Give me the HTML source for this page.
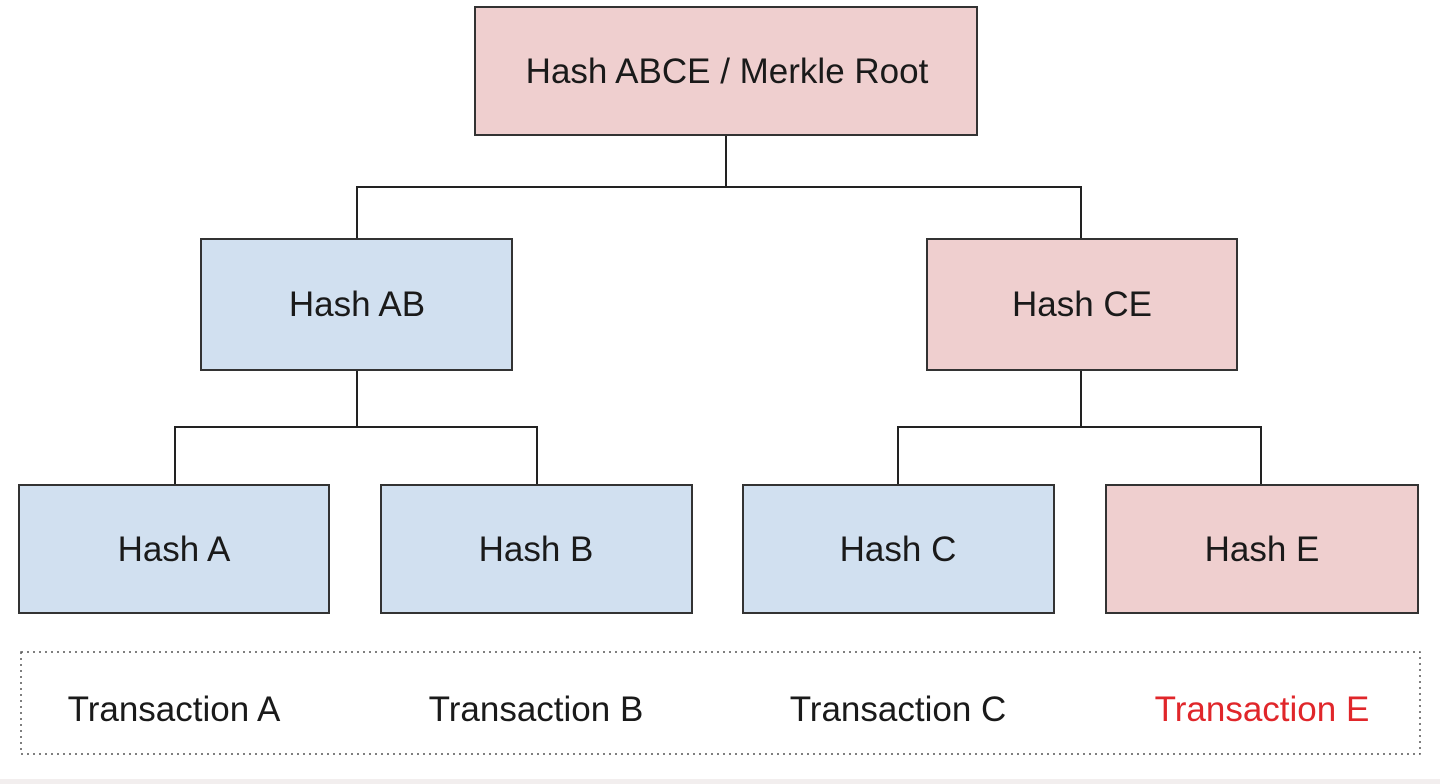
<!DOCTYPE html>
<html><head><meta charset="utf-8"><style>
html,body{margin:0;padding:0;background:#fff;}
svg{display:block;}
text{font-family:"Liberation Sans",Arial,sans-serif;font-size:35px;fill:#1a1a1a;}
</style></head><body>
<svg width="1440" height="784" viewBox="0 0 1440 784" xmlns="http://www.w3.org/2000/svg">
<rect x="0" y="0" width="1440" height="784" fill="#fff"/>
<rect x="0" y="779" width="1440" height="5" fill="#f2eeee"/>
<g stroke="#222" stroke-width="2" fill="none">
<path d="M726 135V187M357 239V187H1081V239"/>
<path d="M357 370V427M175 485V427H537V485"/>
<path d="M1081 370V427M898 485V427H1261V485"/>
</g>
<g stroke="#333" stroke-width="2">
<rect x="475" y="7" width="502" height="128" fill="#efcfcf"/>
<rect x="201" y="239" width="311" height="131" fill="#d1e0f0"/>
<rect x="927" y="239" width="310" height="131" fill="#efcfcf"/>
<rect x="19" y="485" width="310" height="128" fill="#d1e0f0"/>
<rect x="381" y="485" width="311" height="128" fill="#d1e0f0"/>
<rect x="743" y="485" width="311" height="128" fill="#d1e0f0"/>
<rect x="1106" y="485" width="312" height="128" fill="#efcfcf"/>
</g>
<rect x="21" y="652" width="1399" height="102" fill="none" stroke="#555" stroke-width="1.5" stroke-dasharray="2 4"/>
<g text-anchor="middle">
<text x="727" y="83">Hash ABCE / Merkle Root</text>
<text x="357" y="316">Hash AB</text>
<text x="1082" y="316">Hash CE</text>
<text x="174" y="561">Hash A</text>
<text x="536" y="561">Hash B</text>
<text x="898" y="561">Hash C</text>
<text x="1262" y="561">Hash E</text>
<text x="174" y="721">Transaction A</text>
<text x="536" y="721">Transaction B</text>
<text x="898" y="721">Transaction C</text>
<text x="1262" y="721" style="fill:#e0262a">Transaction E</text>
</g>
</svg>
</body></html>
